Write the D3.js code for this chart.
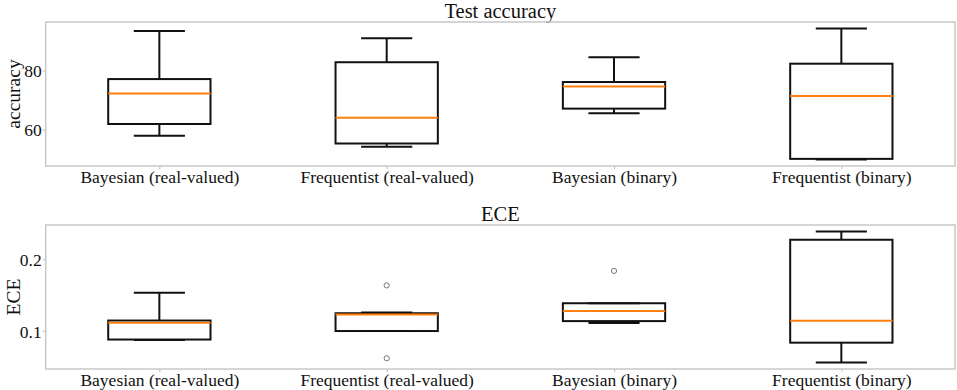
<!DOCTYPE html>
<html lang="en">
<head>
<meta charset="utf-8">
<title>Test accuracy and ECE</title>
<script src="https://cdn.jsdelivr.net/npm/d3@7"></script>
<style>
  body { margin: 0; background: #fff; }
  text { font-family: "Liberation Serif", "DejaVu Serif", serif; fill: #111; }
  .tick line { stroke: #bbb; }
  .domain { display: none; }
</style>
</head>
<body>
<svg width="957" height="390"></svg>
<script>
const categories = ["Bayesian (real-valued)", "Frequentist (real-valued)", "Bayesian (binary)", "Frequentist (binary)"];

// test accuracy boxes (whisker low, Q1, median, Q3, whisker high)
const accLow  = [57.9, 54.2, 65.5, 49.9];
const accQ1   = [61.9, 55.3, 67.1, 50.1];
const accMed  = [72.25, 64.05, 74.6, 71.4];
const accQ3   = [77.1, 82.8, 76.1, 82.3];
const accHigh = [93.4, 90.9, 84.5, 94.2];
const accOutliers = [[], [], [], []];
const accTicks = [60, 80];

// ECE boxes
const eceLow  = [0.0870, 0.0996, 0.1110, 0.0556];
const eceQ1   = [0.0877, 0.0996, 0.1135, 0.0833];
const eceMed  = [0.1111, 0.1226, 0.1278, 0.1139];
const eceQ3   = [0.1143, 0.1245, 0.1385, 0.2274];
const eceHigh = [0.1532, 0.1255, 0.1385, 0.2389];
const eceOutliers = [[], [0.1635, 0.0615], [0.1838], []];
const eceTicks = [0.1, 0.2];

const svg = d3.select("svg");
const serif = "Liberation Serif, DejaVu Serif, serif";
const left = 45.7, right = 955;
const boxW = 0.45, capW = 0.225;

const x = d3.scaleLinear().domain([0.5, 4.5]).range([left, right]);

function panel(opt) {
  const vals = opt.low.concat(opt.high, opt.outliers.flat());
  const lo = d3.min(vals), hi = d3.max(vals), m = (hi - lo) * 0.05;
  const y = d3.scaleLinear().domain([lo - m, hi + m]).range([opt.bottom, opt.top]);
  const g = svg.append("g");

  // title
  g.append("text")
    .attr("x", (left + right) / 2).attr("y", opt.top - 4.5)
    .attr("text-anchor", "middle").attr("font-size", 20.5)
    .text(opt.title);

  // y label
  g.append("text")
    .attr("transform", `translate(19.5,${(opt.top + opt.bottom) / 2}) rotate(-90)`)
    .attr("text-anchor", "middle").attr("font-size", 19.5)
    .text(opt.ylabel);

  // axes
  g.append("g").attr("transform", `translate(${left},0)`)
    .call(d3.axisLeft(y).tickValues(opt.ticks).tickSize(3).tickPadding(1).tickFormat(opt.fmt))
    .attr("font-family", serif).attr("font-size", 17.5)
    .selectAll("text").attr("dy", "0.36em");
  g.append("g").attr("transform", `translate(0,${opt.bottom})`)
    .call(d3.axisBottom(x).tickValues([1, 2, 3, 4]).tickSize(3).tickPadding(2)
      .tickFormat((d, i) => categories[i]))
    .attr("font-family", serif).attr("font-size", 17.5);

  const boxes = g.selectAll("g.box").data(categories).join("g").attr("class", "box");
  // whiskers
  boxes.append("line").attr("x1", (d, i) => x(i + 1)).attr("x2", (d, i) => x(i + 1))
    .attr("y1", (d, i) => y(opt.q3[i])).attr("y2", (d, i) => y(opt.high[i]))
    .attr("stroke", "#111").attr("stroke-width", 2);
  boxes.append("line").attr("x1", (d, i) => x(i + 1)).attr("x2", (d, i) => x(i + 1))
    .attr("y1", (d, i) => y(opt.q1[i])).attr("y2", (d, i) => y(opt.low[i]))
    .attr("stroke", "#111").attr("stroke-width", 2);
  // caps
  [opt.high, opt.low].forEach(arr => {
    boxes.append("line")
      .attr("x1", (d, i) => x(i + 1 - capW / 2)).attr("x2", (d, i) => x(i + 1 + capW / 2))
      .attr("y1", (d, i) => y(arr[i])).attr("y2", (d, i) => y(arr[i]))
      .attr("stroke", "#111").attr("stroke-width", 2);
  });
  // box
  boxes.append("rect")
    .attr("x", (d, i) => x(i + 1 - boxW / 2))
    .attr("width", x(1 + boxW) - x(1))
    .attr("y", (d, i) => y(opt.q3[i]))
    .attr("height", (d, i) => y(opt.q1[i]) - y(opt.q3[i]))
    .attr("fill", "none").attr("stroke", "#111").attr("stroke-width", 2);
  // median
  boxes.append("line")
    .attr("x1", (d, i) => x(i + 1 - boxW / 2)).attr("x2", (d, i) => x(i + 1 + boxW / 2))
    .attr("y1", (d, i) => y(opt.med[i])).attr("y2", (d, i) => y(opt.med[i]))
    .attr("stroke", "#ff7f0e").attr("stroke-width", 2);
  // outliers
  boxes.each(function (d, i) {
    d3.select(this).selectAll("circle").data(opt.outliers[i]).join("circle")
      .attr("cx", x(i + 1)).attr("cy", v => y(v)).attr("r", 2.6)
      .attr("fill", "none").attr("stroke", "#777").attr("stroke-width", 1);
  });

  // frame
  g.append("rect").attr("x", left).attr("y", opt.top)
    .attr("width", right - left).attr("height", opt.bottom - opt.top)
    .attr("fill", "none").attr("stroke", "#c8c8c8").attr("stroke-width", 1.5);
}

panel({
  title: "Test accuracy", ylabel: "accuracy", top: 22, bottom: 166,
  low: accLow, q1: accQ1, med: accMed, q3: accQ3, high: accHigh,
  outliers: accOutliers, ticks: accTicks, fmt: d3.format("d")
});
panel({
  title: "ECE", ylabel: "ECE", top: 225, bottom: 369,
  low: eceLow, q1: eceQ1, med: eceMed, q3: eceQ3, high: eceHigh,
  outliers: eceOutliers, ticks: eceTicks, fmt: d3.format(".1f")
});
</script>
</body>
</html>
